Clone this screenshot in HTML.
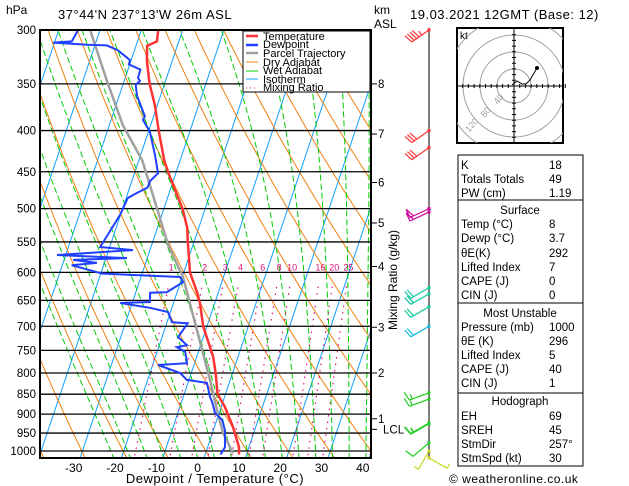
<!DOCTYPE html>
<html><head><meta charset="utf-8"><style>
html,body{margin:0;padding:0;background:#fff;width:629px;height:486px;overflow:hidden}
svg{display:block;font-family:"Liberation Sans",sans-serif}
</style></head><body>
<svg id="chart" width="629" height="486" viewBox="0 0 629 486" xmlns="http://www.w3.org/2000/svg">
<defs><clipPath id="plotclip"><rect x="40" y="30" width="331" height="428"/></clipPath>
<clipPath id="hodoclip"><rect x="457" y="28" width="106" height="115"/></clipPath></defs>
<text x="6" y="14" font-size="12">hPa</text>
<text x="58" y="19" font-size="13" letter-spacing="0.5">37°44'N  237°13'W  26m  ASL</text>
<text x="374" y="14" font-size="12">km</text>
<text x="374" y="28" font-size="12">ASL</text>
<text x="410" y="19" font-size="13" letter-spacing="0.5">19.03.2021 12GMT (Base: 12)</text>
<g id="bg" clip-path="url(#plotclip)"></g>
<g id="plines"></g>
<g id="series" clip-path="url(#plotclip)"></g>
<rect x="40" y="30" width="331" height="428" fill="none" stroke="#000" stroke-width="2"/>
<g id="axes"></g>
<text x="215" y="483" font-size="13" text-anchor="middle" letter-spacing="0.5">Dewpoint / Temperature (°C)</text>
<text transform="translate(397,280) rotate(-90)" font-size="12" text-anchor="middle">Mixing Ratio (g/kg)</text>
<line x1="429" y1="28" x2="429" y2="459" stroke="#000" stroke-width="1"/>
<g id="barbs"></g>
<g>
<rect x="457" y="28" width="106" height="115" fill="#fff" stroke="#000" stroke-width="2"/>
<g clip-path="url(#hodoclip)" fill="none" stroke="#a0a0a0" stroke-width="1">
<circle cx="514" cy="86" r="17"/><circle cx="514" cy="86" r="34"/><circle cx="514" cy="86" r="51"/><circle cx="514" cy="86" r="68"/>
</g>
<g id="hodoaxes"></g>
<g font-size="9" fill="#a0a0a0">
<text x="0" y="0" transform="translate(501,101) rotate(-50)" text-anchor="middle">40</text>
<text x="0" y="0" transform="translate(488,114) rotate(-50)" text-anchor="middle">80</text>
<text x="0" y="0" transform="translate(474,127) rotate(-50)" text-anchor="middle">120</text>
</g>
<text x="460" y="39" font-size="10">kt</text>
<polyline id="hodoline" fill="none" stroke="#000" stroke-width="1"/>
</g>
<g font-size="11.5">
<rect x="458" y="155" width="125" height="45" fill="none" stroke="#000"/>
<rect x="458" y="200" width="125" height="103" fill="none" stroke="#000"/>
<rect x="458" y="303" width="125" height="90" fill="none" stroke="#000"/>
<rect x="458" y="393" width="125" height="73" fill="none" stroke="#000"/>
<g id="tablerows"></g>
</g>
<text x="449" y="483" font-size="12" letter-spacing="0.5">© weatheronline.co.uk</text>
<g font-size="11">
<rect x="243" y="31" width="127" height="61" fill="#ffffff" stroke="#000000" stroke-width="1"/>
<line x1="246" y1="36" x2="258" y2="36" stroke="#ff3333" stroke-width="2.5"/><text x="263" y="40">Temperature</text>
<line x1="246" y1="45" x2="258" y2="45" stroke="#2040ff" stroke-width="2.5"/><text x="263" y="48">Dewpoint</text>
<line x1="246" y1="53" x2="258" y2="53" stroke="#a0a0a0" stroke-width="2.5"/><text x="263" y="57">Parcel Trajectory</text>
<line x1="246" y1="62" x2="258" y2="62" stroke="#f08010" stroke-width="1"/><text x="263" y="66">Dry Adiabat</text>
<line x1="246" y1="71" x2="258" y2="71" stroke="#00cc00" stroke-width="1"/><text x="263" y="74">Wet Adiabat</text>
<line x1="246" y1="79" x2="258" y2="79" stroke="#10a0ff" stroke-width="1"/><text x="263" y="83">Isotherm</text>
<line x1="246" y1="88" x2="258" y2="88" stroke="#e0107f" stroke-width="1" stroke-dasharray="1,3"/><text x="263" y="91">Mixing Ratio</text>
</g>
</svg>
<script>
// ---- data ----
const tempP = [300,310,314,328,350,372,400,436,450,475,500,528,550,600,636,655,700,764,800,850,882,934,989,1010];
const tempT = [-45.9,-45.3,-47.3,-46.1,-43.6,-40.6,-37.6,-33.8,-32.0,-28.7,-25.5,-22.8,-21.5,-18.5,-15.1,-13.6,-10.9,-6.0,-4.1,-1.9,0.95,4.5,7.6,8.2];
const dewP = [300,310,311,313,313.5,318,327,331,336,344,347,351,362,384,388,401,429,452,462,471,478,485,509,533,558,559,563,571,576,579,584,588,593,602,605,608,617,635,636,653,655,664,672,692,694,722,739,743,753,778,782,800,816,823,857,869,897,915,942,989,1010];
const dewT = [-65.3,-65.9,-70.3,-61.9,-57.1,-54.0,-50.3,-50.2,-47.0,-46.9,-46.2,-46.9,-45.7,-42.1,-42.3,-39.7,-36.5,-34.3,-35.6,-35.7,-37.8,-39.6,-40.1,-41.2,-42.3,-40.6,-34.1,-52.1,-34.9,-47.8,-41.8,-47.7,-44.7,-39.8,-30.4,-20.5,-19.4,-22.5,-26.5,-25.8,-32.9,-25.3,-20.6,-18.8,-14.9,-16.1,-13.3,-15.6,-13.2,-11.8,-18.7,-12.7,-10.5,-5.4,-3.5,-2.6,-1.0,1.3,2.8,4.2,3.7];
const parcelP = [300,307,347,394,436,556,608,816,900,950,1006];
const parcelT = [-62.4,-61.1,-54.2,-46.7,-39.1,-25.9,-19.8,-4.9,-0.2,2.6,6.6];
const pressureLevels = [300,350,400,450,500,550,600,650,700,750,800,850,900,950,1000];
const tempTicks = [-30,-20,-10,0,10,20,30,40];
const kmLabels = ["8","7","6","5","4","3","2","1","LCL"];
const kmPressures = [350,404,464,521,590,702,800,912,940];
const mixRatios = [1,2,3,4,6,8,10,16,20,25];
const windP = [300,400,420,500,505,627,638,662,700,847,862,923,925,977,1000,1020];
const windSpd = [45,30,30,50,50,20,20,20,20,15,15,15,15,10,5,5];
const windDir = [235,235,235,245,245,240,240,240,240,250,250,240,240,230,210,120];
const hodoU = [-2,3,8,12,16,23];
const hodoV = [1,5,2,2,6,18];
const tableLabels = [["K","18",169],["Totals Totals","49",183],["PW (cm)","1.19",197],
 ["Temp (°C)","8",228],["Dewp (°C)","3.7",242],["θE(K)","292",257],["Lifted Index","7",271],["CAPE (J)","0",285],["CIN (J)","0",299],
 ["Pressure (mb)","1000",331],["θE (K)","296",345],["Lifted Index","5",359],["CAPE (J)","40",373],["CIN (J)","1",387],
 ["EH","69",420],["SREH","45",434],["StmDir","257°",448],["StmSpd (kt)","30",462]];
const tableTitles = [["Surface",214],["Most Unstable",317],["Hodograph",405]];

// ---- axes ----
const NS="http://www.w3.org/2000/svg";
function Y(p){return 451-349.7*Math.log(1000/p);}
function X(T,p){return 204+4.13*T+0.336*(458-Y(p));}
function mk(tag,attrs,parent){const e=document.createElementNS(NS,tag);for(const k in attrs)e.setAttribute(k,attrs[k]);parent.appendChild(e);return e;}
function pathFrom(ps,ts){return ps.map((p,i)=>(i?'L':'M')+X(ts[i],p).toFixed(1)+','+Y(p).toFixed(1)).join('');}
const bg=document.getElementById('bg');
for(let T=-170;T<=40;T+=10){
 const l=mk('line',{x1:X(T,1050),y1:Y(1050),x2:X(T,290),y2:Y(290),stroke:'#10a0ff','stroke-width':1},bg);
 
 
}
for(let th=233;th<=483;th+=10){
 const ps=[],ts=[];for(let p=1050;p>=290;p-=10){ps.push(p);ts.push(th*Math.pow(p/1000,0.286)-273.15);}
 const e=mk('path',{d:pathFrom(ps,ts),fill:'none',stroke:'#f08010','stroke-width':1},bg);
 
 
}
function es(T){return 6.112*Math.exp(17.67*T/(T+243.5));}
for(let T0=-20;T0<=40;T0+=4){
 let T=T0+273.15;const ps=[],ts=[];
 for(let p=1050;p>=290;p-=2){ps.push(p);ts.push(T-273.15);
  const e=es(T-273.15),ws=0.622*e/(p-e),Lv=2.5e6,Rd=287,cp=1005;
  const dTdp=(Rd*T+Lv*ws)/(p*(cp+Lv*Lv*ws*0.622/(Rd*T*T)));T-=dTdp*2;}
 const e=mk('path',{d:pathFrom(ps,ts),fill:'none',stroke:'#00cc00','stroke-width':1,'stroke-dasharray':'6,3'},bg);
 
 
}
function tdFromW(w,p){const e=w*p/(622+w);const a=Math.log(e/6.112);return 243.5*a/(17.67-a);}
mixRatios.forEach(w=>{
 const l=mk('line',{x1:X(tdFromW(w,1050),1050),y1:Y(1050),x2:X(tdFromW(w,620),620),y2:Y(620),stroke:'#e0107f','stroke-width':1.2,'stroke-dasharray':'1.5,5'},bg);
 
 
 const t=mk('text',{x:X(tdFromW(w,600),600),y:Y(600)-2,'font-size':9,fill:'#e0107f','text-anchor':'middle'},bg);
 t.textContent=w;
 
 
});
const pl=document.getElementById('plines'),ax=document.getElementById('axes');
pressureLevels.forEach(p=>{
 const l=mk('line',{x1:40,x2:371,y1:Y(p),y2:Y(p),stroke:'#000','stroke-width':1.3},pl);
 
 
 const t=mk('text',{x:36,y:Y(p)+4,'font-size':11.5,'text-anchor':'end'},ax);
 t.textContent=p;
 
 
});
tempTicks.forEach(T=>{
 const t=mk('text',{x:X(T,1050)-3,y:472,'font-size':12,'text-anchor':'middle'},ax);
 t.textContent=T;
 
 
});
kmLabels.forEach((k,i)=>{
 const y=Y(kmPressures[i]);
 const l=mk('line',{x1:371,x2:377,y1:y,y2:y,stroke:'#000'},ax);
 
 
 const t=mk('text',{x:k==='LCL'?383:378,y:y+4,'font-size':11.5},ax);
 t.textContent=k;
 
 
});
const sr=document.getElementById('series');
const pp=mk('path',{d:pathFrom(parcelP,parcelT),fill:'none',stroke:'#a0a0a0','stroke-width':2.5},sr);


const tp=mk('path',{d:pathFrom(tempP,tempT),fill:'none',stroke:'#ff3333','stroke-width':2.5},sr);


const dp=mk('path',{d:pathFrom(dewP,dewT),fill:'none',stroke:'#2040ff','stroke-width':2},sr);


const bb=document.getElementById('barbs');
function barbColor(p){if(p<=460)return '#ff3333';if(p<=560)return '#cc0099';if(p<=690)return '#10c8a0';if(p<=760)return '#10b8d8';if(p<=990)return '#20cc20';return '#c8d820';}
windP.forEach((p,i)=>{
 const y=Y(p),x=429,c=barbColor(p),d=windDir[i]*Math.PI/180,L=21;
 const ux=Math.sin(d),uy=-Math.cos(d);
 const ex=x+ux*L,ey=y+uy*L;
 let s='M'+x+','+y+'L'+ex.toFixed(1)+','+ey.toFixed(1);
 const px=-uy,py=ux;
 let spd=windSpd[i],pos=0;
 const sgn=(py<0)?1:-1;
 while(spd>=50){const bx=ex-ux*pos,by=ey-uy*pos;s+='M'+bx+','+by+'L'+(bx+sgn*px*9)+','+(by+sgn*py*9)+'L'+(bx-ux*4)+','+(by-uy*4);pos+=5;spd-=50;}
 while(spd>=10){const bx=ex-ux*pos,by=ey-uy*pos;s+='M'+bx+','+by+'l'+(sgn*px*9+ux*2)+','+(sgn*py*9+uy*2);pos+=3;spd-=10;}
 if(spd>=5){const bx=ex-ux*pos,by=ey-uy*pos;s+='M'+bx+','+by+'l'+(sgn*px*5)+','+(sgn*py*5);}
 const e=mk('path',{d:s,fill:'none',stroke:c,'stroke-width':1.2},bb);
 
 
 const dot=mk('rect',{x:x-1.5,y:y-1.5,width:3,height:3,fill:c},bb);
 
 
});
const ha=document.getElementById('hodoaxes');
let hs='M457,86L563,86M514,28L514,143';
for(let k=-9;k<=9;k++){if(!k)continue;hs+='M'+(514+k*5.7)+',84L'+(514+k*5.7)+',88M512,'+(86+k*5.7)+'L516,'+(86+k*5.7);}
const hax=mk('path',{d:hs,stroke:'#000','stroke-width':1,fill:'none'},ha);


document.getElementById('hodoline').setAttribute('points',hodoU.map((u,i)=>(514+u).toFixed(1)+','+(86-hodoV[i]).toFixed(1)).join(' '));
const hd=mk('circle',{cx:514+hodoU[hodoU.length-1],cy:86-hodoV[hodoV.length-1],r:2,fill:'#000'},ha.parentNode);


const tr=document.getElementById('tablerows');
tableLabels.forEach(r=>{
 const a=mk('text',{x:461,y:r[2]},tr);a.textContent=r[0];
 
 
 const b=mk('text',{x:549,y:r[2]},tr);b.textContent=r[1];
 
 
});
tableTitles.forEach(r=>{
 const a=mk('text',{x:520,y:r[1],'text-anchor':'middle'},tr);a.textContent=r[0];
 
 
});
</script>
</body></html>
